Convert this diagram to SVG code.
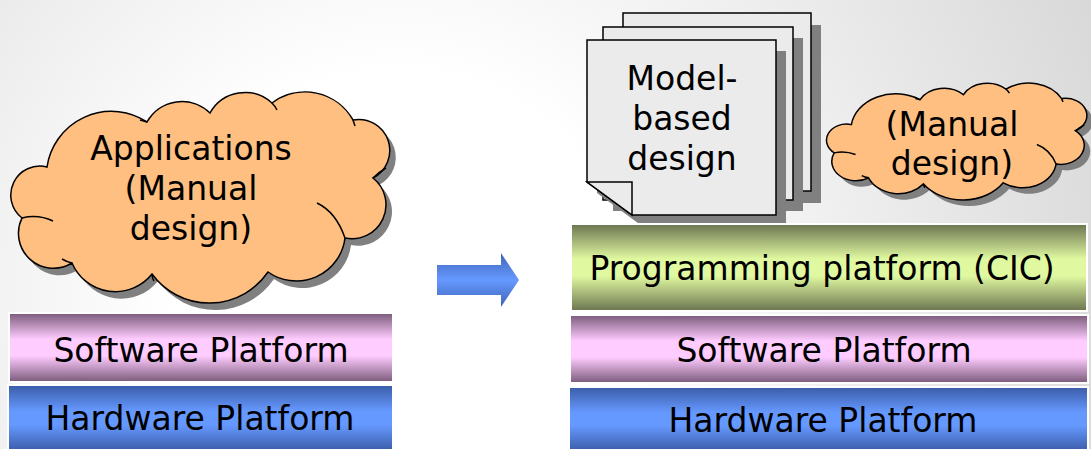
<svg xmlns="http://www.w3.org/2000/svg" xmlns:xlink="http://www.w3.org/1999/xlink" width="1091" height="449" viewBox="0 0 1091 449">
<style>
text{font-family:"DejaVu Sans","Liberation Sans",sans-serif;font-size:33px;fill:#000;text-anchor:middle}
.cloud{fill:#ffbf80;stroke:#000;stroke-width:1.5}
.shadow{fill:#808080;stroke:none}
.crease{fill:none;stroke:#000;stroke-width:1.5}
.doc{fill:#ebebeb;stroke:#000;stroke-width:1.5;stroke-linejoin:miter}
.bar{stroke:#fff;stroke-width:2}
</style>
<defs>
<radialGradient id="bg" cx="400" cy="300" r="760" gradientUnits="userSpaceOnUse">
<stop offset="0" stop-color="#ffffff"/>
<stop offset="0.3" stop-color="#ffffff"/>
<stop offset="1" stop-color="#d8d8d8"/>
</radialGradient>
<linearGradient id="gPurple" x1="0" y1="0" x2="0" y2="1">
<stop offset="0" stop-color="#7a5a7a"/>
<stop offset="0.38" stop-color="#ffccff"/>
<stop offset="0.62" stop-color="#ffccff"/>
<stop offset="1" stop-color="#7a5a7a"/>
</linearGradient>
<linearGradient id="gBlue" x1="0" y1="0" x2="0" y2="1">
<stop offset="0" stop-color="#3a5ca8"/>
<stop offset="0.4" stop-color="#6699ff"/>
<stop offset="0.6" stop-color="#6699ff"/>
<stop offset="1" stop-color="#3a5ca8"/>
</linearGradient>
<linearGradient id="gGreen" x1="0" y1="0" x2="0" y2="1">
<stop offset="0" stop-color="#6b7450"/>
<stop offset="0.4" stop-color="#e0f8a0"/>
<stop offset="0.6" stop-color="#e0f8a0"/>
<stop offset="1" stop-color="#6b7450"/>
</linearGradient>
<linearGradient id="gArrow" x1="0" y1="0" x2="0" y2="1">
<stop offset="0" stop-color="#3f64b8"/>
<stop offset="0.5" stop-color="#6699ff"/>
<stop offset="1" stop-color="#3f64b8"/>
</linearGradient>
<path id="cloudPath" vector-effect="non-scaling-stroke" d="M47,167 A65,65 0 0 1 147,122 A40,40 0 0 1 210,113 A40,40 0 0 1 272,103 A55,55 0 0 1 353,120 A31,31 0 0 1 373,178 A34,34 0 0 1 345,238 A49,49 0 0 1 268,272 A71,71 0 0 1 152,274 A47,47 0 0 1 72,263 A35,35 0 0 1 22,218 A29,29 0 0 1 47,167 Z"/>
<path id="creasePath" vector-effect="non-scaling-stroke" d="M345,238 Q336,212 317,203 M22,218 Q38,214 53,221 M72,263 Q67,262 62,259 M152,274 Q152,278 154,281 M272,103 Q275,106 277,110 M147,122 Q144,121 140,120 M353,120 Q354,123 355,126 M373,178 Q379,172 386,168"/>
</defs>
<rect x="0" y="0" width="1091" height="449" fill="url(#bg)"/>

<g id="left-cloud">
<use xlink:href="#cloudPath" class="shadow" transform="translate(6,7)"/>
<use xlink:href="#cloudPath" class="cloud"/>
<use xlink:href="#creasePath" class="crease"/>
<text x="191" y="160">Applications</text>
<text x="191" y="200">(Manual</text>
<text x="191" y="240">design)</text>
</g>

<g id="left-software">
<rect class="bar" x="9" y="313" width="384" height="69" fill="url(#gPurple)"/>
<text x="201" y="362">Software Platform</text>
</g>
<g id="left-hardware">
<rect class="bar" x="8" y="385" width="385" height="66" fill="url(#gBlue)"/>
<text x="200" y="430">Hardware Platform</text>
</g>

<g id="connectors">
<polygon points="437,265 501,265 501,253 519,280 501,307 501,295 437,295" fill="url(#gArrow)"/>
</g>

<g id="model-docs">
<rect class="shadow" x="633" y="25" width="188" height="178"/>
<rect class="doc" x="623" y="13" width="188" height="178"/>
<rect class="shadow" x="613" y="38" width="190" height="173"/>
<rect class="doc" x="603" y="27" width="190" height="173"/>
<path class="shadow" d="M597,51 H786 V226 H642 L597,193 Z"/>
<path class="doc" d="M587,40 H776 V215 H632 L587,182 Z"/>
<path class="doc" d="M587,182 H632 V215 Z"/>
<text x="682" y="90">Model-</text>
<text x="682" y="130">based</text>
<text x="682" y="170">design</text>
</g>

<g id="right-cloud">
<use xlink:href="#cloudPath" class="shadow" transform="translate(825.1,38.1) scale(0.687,0.554)"/>
<use xlink:href="#cloudPath" class="cloud" transform="translate(819.1,32.1) scale(0.687,0.554)"/>
<use xlink:href="#creasePath" class="crease" transform="translate(819.1,32.1) scale(0.687,0.554)"/>
<text x="952" y="136">(Manual</text>
<text x="952" y="175">design)</text>
</g>

<g id="right-programming">
<rect class="bar" x="571" y="224" width="516" height="87" fill="url(#gGreen)"/>
<text x="822" y="280">Programming platform (CIC)</text>
</g>
<g id="right-software">
<rect class="bar" x="570" y="315" width="518" height="68" fill="url(#gPurple)"/>
<text x="824" y="362">Software Platform</text>
</g>
<g id="right-hardware">
<rect class="bar" x="569" y="387" width="519" height="64" fill="url(#gBlue)"/>
<text x="823" y="432">Hardware Platform</text>
</g>
</svg>
